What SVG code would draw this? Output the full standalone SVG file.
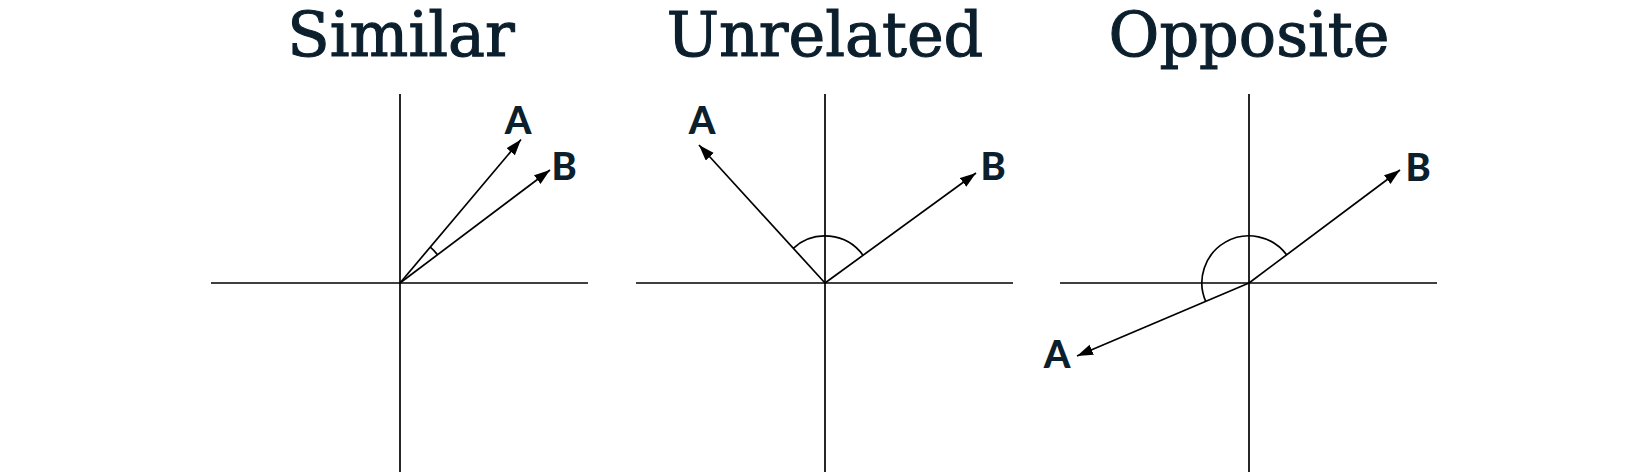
<svg xmlns="http://www.w3.org/2000/svg" width="1650" height="472" viewBox="0 0 1650 472">
  <style>
    .title { font-family: "DejaVu Serif", "Liberation Serif", serif; font-size: 62px; fill: #0c1f2d; stroke: #0c1f2d; stroke-width: 1.1; text-anchor: middle; }
    .label { font-family: Lato, "Open Sans", sans-serif; font-weight: 900; font-size: 38px; fill: #0c1f2d; text-anchor: middle; }
    .axis { stroke: #000; stroke-width: 1.7; fill: none; }
    .arc { stroke: #000; stroke-width: 1.7; fill: none; }
    .vec { stroke: #000; stroke-width: 1.7; fill: none; marker-end: url(#head); }
  </style>
  <defs>
    <marker id="head" markerUnits="userSpaceOnUse" markerWidth="17" markerHeight="12" refX="16" refY="5.5" orient="auto">
      <path d="M0,0 L16,5.5 L0,11 z" fill="#000"/>
    </marker>
  </defs>
  <rect width="1650" height="472" fill="#fff"/>

  <g id="panel-similar">
    <text class="title" x="401" y="56">Similar</text>
    <line class="axis" x1="211" y1="283" x2="588" y2="283"/>
    <line class="axis" x1="400" y1="94" x2="400" y2="472"/>
    <path class="arc" d="M437.5,254.7 A47,47 0 0 0 430.3,247.1"/>
    <text class="label" x="518" y="134">A</text>
    <text class="label" x="564" y="180">B</text>
  </g>

  <g id="panel-unrelated">
    <text class="title" x="825" y="56">Unrelated</text>
    <line class="axis" x1="636" y1="283" x2="1013" y2="283"/>
    <line class="axis" x1="825" y1="94" x2="825" y2="472"/>
    <path class="arc" d="M863,255.3 A47,47 0 0 0 793.3,248.3"/>
    <text class="label" x="702" y="134">A</text>
    <text class="label" x="993" y="180">B</text>
  </g>

  <g id="panel-opposite">
    <text class="title" x="1249" y="56">Opposite</text>
    <line class="axis" x1="1060" y1="283" x2="1437" y2="283"/>
    <line class="axis" x1="1249" y1="94" x2="1249" y2="472"/>
    <path class="arc" d="M1286.6,254.8 A47,47 0 0 0 1205.7,301.4"/>
    <text class="label" x="1418" y="181">B</text>
    <text class="label" x="1057" y="368">A</text>
  </g>

  <g id="connectors">
    <line class="vec" x1="400" y1="283" x2="521" y2="139.5"/>
    <line class="vec" x1="400" y1="283" x2="550" y2="170"/>
    <line class="vec" x1="825" y1="283" x2="699" y2="145"/>
    <line class="vec" x1="825" y1="283" x2="976" y2="173"/>
    <line class="vec" x1="1249" y1="283" x2="1400" y2="170"/>
    <line class="vec" x1="1249" y1="283" x2="1077" y2="356"/>
  </g>
</svg>
